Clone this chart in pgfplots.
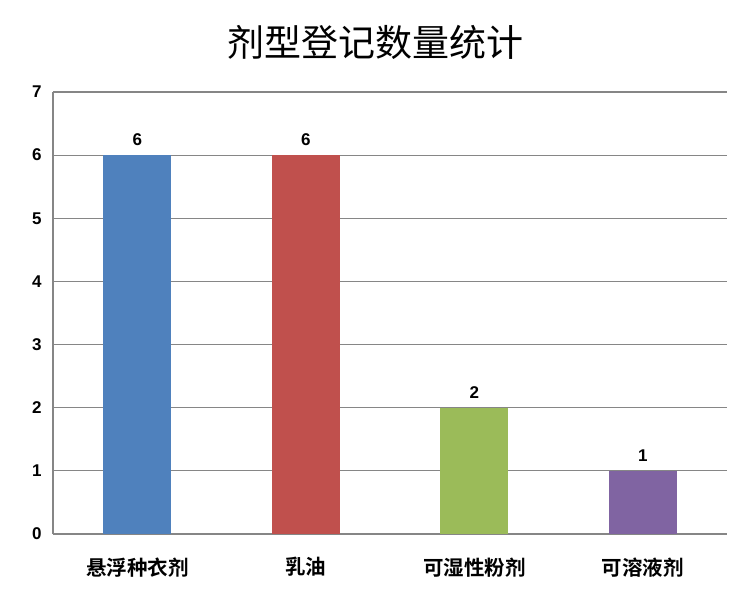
\documentclass[border=0pt]{standalone}
\usepackage{fontspec}
\setmainfont{Liberation Sans}
\newfontfamily\cjk{Noto Sans CJK SC}
\newfontfamily\cjkb{Noto Sans CJK SC Bold}
\usepackage{pgfplots}
\pgfplotsset{compat=1.18}
\definecolor{c1}{HTML}{4F81BD}
\definecolor{c2}{HTML}{C0504D}
\definecolor{c3}{HTML}{9BBB59}
\definecolor{c4}{HTML}{8064A2}
\definecolor{gridc}{HTML}{868686}
\begin{document}
\begin{tikzpicture}
\begin{axis}[
  scale only axis,
  width=674bp, height=442bp,
  xmin=-0.5, xmax=3.5,
  ymin=0, ymax=7,
  ytick={0,...,7},
  xtick={0,1,2,3},
  xticklabels={悬浮种衣剂,乳油,可湿性粉剂,可溶液剂},
  xticklabel style={font=\cjkb\fontsize{20.5bp}{22bp}\selectfont, yshift=-20bp},
  yticklabel style={font=\bfseries\fontsize{17bp}{19bp}\selectfont, xshift=-8bp},
  /pgf/number format/assume math mode=true,
  axis x line*=bottom,
  axis y line*=left,
  axis line style={gridc, line width=1.2pt},
  x axis line style={-}, y axis line style={-},
  major tick length=0pt,
  ymajorgrids,
  grid style={gridc, line width=1.2pt},
  ybar, bar width=0.404,
  bar shift=0pt,
  nodes near coords,
  nodes near coords style={font=\bfseries\fontsize{17bp}{19bp}\selectfont, yshift=6bp, text=black},
  every axis plot/.append style={draw=none},
]
\addplot[fill=c1] coordinates {(0,6)};
\addplot[fill=c2] coordinates {(1,6)};
\addplot[fill=c3] coordinates {(2,2)};
\addplot[fill=c4] coordinates {(3,1)};
\coordinate (o) at (rel axis cs:0,0);
\end{axis}
\node[font=\cjk\fontsize{37bp}{40bp}\selectfont] at ([shift={(322bp,492bp)}]o) {剂型登记数量统计};
\path[use as bounding box] ([shift={(-53bp,-71bp)}]o) rectangle ++(752bp,605bp);
\end{tikzpicture}
\end{document}
